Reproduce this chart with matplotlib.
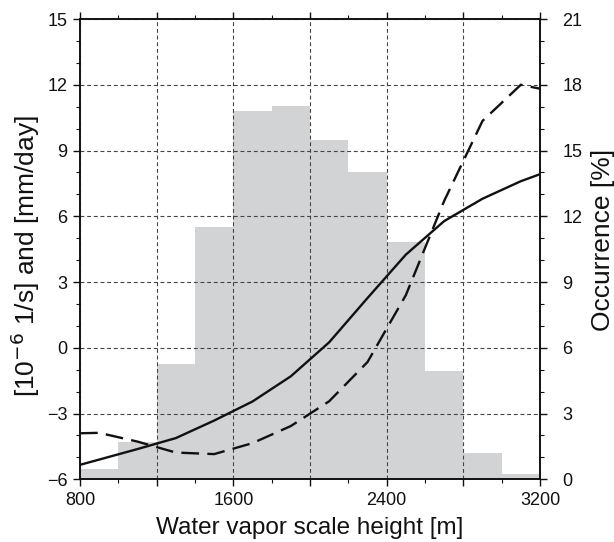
import matplotlib
matplotlib.use("Agg")
import matplotlib.pyplot as plt
from matplotlib.ticker import MultipleLocator, FuncFormatter
import numpy as np

plt.rcParams['font.family'] = ['Liberation Sans', 'DejaVu Sans']

# Histogram: occurrence [%] per 200 m bin
bin_edges = [800, 1000, 1200, 1400, 1600, 1800, 2000, 2200, 2400, 2600, 2800, 3000, 3200]
occurrence = [0.47, 1.70, 5.26, 11.52, 16.82, 17.05, 15.49, 14.03, 10.84, 4.95, 1.21, 0.24]

# Curves
x_curve = [800, 900, 1100, 1300, 1500, 1700, 1900, 2100, 2300, 2500, 2700, 2900, 3100, 3200]
solid_vals = [-5.34, -5.10, -4.62, -4.12, -3.32, -2.45, -1.30, 0.25, 2.27, 4.25, 5.78, 6.80, 7.60, 7.92]
dashed_vals = [-3.90, -3.88, -4.28, -4.78, -4.85, -4.35, -3.57, -2.44, -0.65, 2.40, 6.70, 10.35, 12.00, 11.82]

fig = plt.figure(figsize=(6.14, 5.42), dpi=100)
ax = fig.add_axes([80/614, 1-479.3/542, 460/614, 460.3/542])
ax2 = ax.twinx()

# bars on right axis
lefts = np.array(bin_edges[:-1])
widths = np.diff(bin_edges)
ax2.bar(lefts, occurrence, width=widths, align='edge', color='#d2d3d5', edgecolor='none')
ax2.set_ylim(0, 21)
ax2.yaxis.set_major_locator(MultipleLocator(3))
ax2.yaxis.set_minor_locator(MultipleLocator(1))

ax.set_zorder(ax2.get_zorder() + 1)
ax.patch.set_visible(False)

lc = '#111111'
ax.plot(x_curve, solid_vals, color=lc, lw=1.7, solid_joinstyle='miter')
ax.plot(x_curve, dashed_vals, color=lc, lw=1.7, dashes=(7.5, 3.5))

ax.set_xlim(800, 3200)
ax.set_ylim(-6, 15)
ax.xaxis.set_major_locator(MultipleLocator(400))
ax.xaxis.set_minor_locator(MultipleLocator(200))
ax.xaxis.set_major_formatter(FuncFormatter(lambda v, p: f"{int(v)}" if int(round(v)) % 800 == 0 else ""))
ax.yaxis.set_major_locator(MultipleLocator(3))
ax.yaxis.set_minor_locator(MultipleLocator(1))
ax.yaxis.set_major_formatter(FuncFormatter(lambda v, p: f"{int(v)}".replace('-', '\u2212')))

ax.grid(True, which='major', color='#444444', linestyle=(0, (3.5, 2.5)), linewidth=0.8)

for a in (ax, ax2):
    for s in a.spines.values():
        s.set_linewidth(1.2)
        s.set_color('#111111')

ax.tick_params(axis='both', which='major', direction='out', length=5, width=1.0,
               labelsize=13, colors='#111111', top=True)
ax.tick_params(axis='both', which='minor', direction='out', length=3, width=0.8,
               colors='#111111', top=True)
ax.tick_params(axis='x', which='major', pad=4)
ax.tick_params(axis='y', which='major', pad=4)
ax2.tick_params(axis='y', which='major', direction='out', length=5, width=1.0,
                labelsize=13, colors='#111111', pad=11)
ax2.tick_params(axis='y', which='minor', direction='out', length=3, width=0.8, colors='#111111')
for t in ax2.get_yticklabels():
    t.set_horizontalalignment('left')

ax.set_xlabel('Water vapor scale height [m]', fontsize=17.5, labelpad=6, color='#111111')

fig.text(25/614, 1-256/542, '[10$^{-6}$ 1/s] and [mm/day]', fontsize=19, rotation=90,
         ha='center', va='center', color='#111111')
fig.text(603/614, 1-240/542, 'Occurrence [%]', fontsize=19, rotation=90,
         ha='center', va='center', color='#111111')

fig.savefig('out.png', dpi=100)
